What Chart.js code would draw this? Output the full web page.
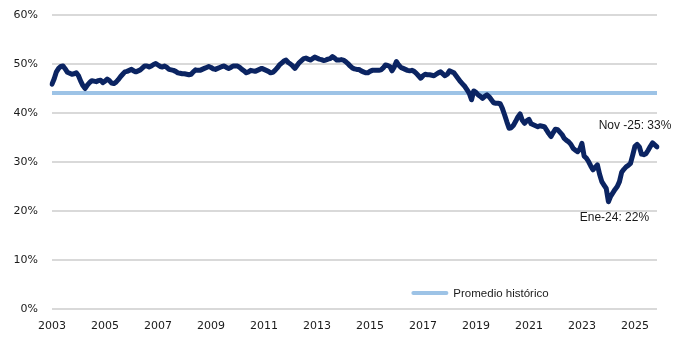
<!DOCTYPE html>
<html lang="es">
<head>
<meta charset="utf-8">
<title>Participación mensual vs. promedio histórico</title>
<script src="https://cdn.jsdelivr.net/npm/chart.js@4.4.1/dist/chart.umd.min.js"></script>
<style>
  html, body { margin: 0; padding: 0; background: #ffffff; }
  #wrap { position: relative; width: 680px; height: 340px; }
</style>
</head>
<body>
<div id="wrap"><canvas id="chart"></canvas></div>
<script>
// Monthly series, January 2003 to November 2025 (percent)
const startYear = 2003;
const monthNames = ['Ene', 'Feb', 'Mar', 'Abr', 'May', 'Jun', 'Jul', 'Ago', 'Sep', 'Oct', 'Nov', 'Dic'];

const shareValues = [
  // 2003
  45.9, 47.0, 48.4, 49.1, 49.5, 49.6, 49.0, 48.3, 48.1, 47.9, 48.0, 48.2,
  // 2004
  47.6, 46.5, 45.6, 45.0, 45.7, 46.2, 46.6, 46.5, 46.4, 46.6, 46.7, 46.2,
  // 2005
  46.5, 46.9, 46.6, 46.1, 46.0, 46.3, 46.8, 47.4, 47.9, 48.4, 48.5, 48.7,
  // 2006
  48.9, 48.6, 48.4, 48.6, 48.8, 49.2, 49.6, 49.6, 49.4, 49.6, 49.9, 50.1,
  // 2007
  49.8, 49.5, 49.4, 49.6, 49.3, 48.9, 48.8, 48.7, 48.5, 48.2, 48.1, 48.0,
  // 2008
  48.0, 47.9, 47.8, 47.9, 48.4, 48.8, 48.7, 48.7, 48.9, 49.1, 49.3, 49.5,
  // 2009
  49.3, 49.0, 48.9, 49.1, 49.3, 49.5, 49.6, 49.3, 49.1, 49.3, 49.6, 49.6,
  // 2010
  49.6, 49.3, 48.9, 48.6, 48.2, 48.4, 48.7, 48.6, 48.5, 48.7, 48.9, 49.1,
  // 2011
  48.9, 48.7, 48.5, 48.2, 48.3, 48.7, 49.2, 49.8, 50.2, 50.6, 50.8, 50.3,
  // 2012
  50.0, 49.6, 49.1, 49.7, 50.3, 50.7, 51.1, 51.2, 51.0, 50.8, 51.1, 51.4,
  // 2013
  51.2, 51.0, 50.9, 50.7, 50.8, 51.0, 51.1, 51.5, 51.2, 50.8, 50.8, 50.9,
  // 2014
  50.8, 50.5, 50.1, 49.6, 49.2, 49.0, 48.9, 48.9, 48.6, 48.4, 48.2, 48.2,
  // 2015
  48.5, 48.7, 48.7, 48.7, 48.7, 48.8, 49.2, 49.8, 49.7, 49.5, 48.6, 49.4,
  // 2016
  50.5, 49.8, 49.3, 49.1, 48.9, 48.7, 48.6, 48.7, 48.5, 48.1, 47.6, 47.1,
  // 2017
  47.6, 47.9, 47.8, 47.8, 47.7, 47.6, 47.9, 48.2, 48.4, 48.0, 47.6, 47.9,
  // 2018
  48.6, 48.4, 48.2, 47.6, 47.0, 46.4, 45.9, 45.4, 44.7, 44.0, 42.7, 44.5,
  // 2019
  44.2, 43.7, 43.4, 43.0, 43.4, 43.7, 43.3, 42.7, 42.1, 42.0, 42.0, 41.9,
  // 2020
  40.9, 39.6, 38.2, 36.9, 37.0, 37.5, 38.3, 39.2, 39.8, 38.5, 37.9, 38.4,
  // 2021
  38.7, 37.8, 37.6, 37.4, 37.2, 37.4, 37.3, 37.2, 36.5, 35.8, 35.2, 36.0,
  // 2022
  36.7, 36.6, 36.1, 35.6, 34.8, 34.4, 34.1, 33.6, 32.8, 32.4, 32.1, 32.6,
  // 2023
  33.8, 31.2, 30.8, 30.1, 29.2, 28.4, 28.9, 29.4, 27.5, 26.0, 25.3, 24.6,
  // 2024
  21.9, 23.0, 23.7, 24.4, 25.0, 26.0, 27.9, 28.5, 29.0, 29.3, 29.7, 31.4,
  // 2025
  33.2, 33.6, 33.1, 31.6, 31.5, 31.7, 32.4, 33.2, 33.9, 33.5, 33.1
];

const historicalAverage = 44.1;
const averageLabel = 'Promedio histórico';

// Y axis range and step (percent)
const yMin = 0, yMax = 60, yStep = 10;
// A year label every 24 months
const yearLabelEvery = 24;

// Highlighted points: category key and the prefix drawn before the value
const callouts = [
  { key: 'Ene-24', prefix: 'Ene-24' },
  { key: 'Nov-25', prefix: 'Nov -25' }
];

// Category labels built from the start year and the month names
const monthLabels = shareValues.map((_, i) =>
  monthNames[i % 12] + '-' + String(startYear + Math.floor(i / 12)).slice(2));
const averageValues = shareValues.map(() => historicalAverage);

const NAVY = '#0b2462';
const LIGHT_BLUE = '#9dc3e6';
const TEXT = '#1a1a1a';

// Legend entry drawn inside the plot, near its lower edge
const innerLegend = {
  id: 'innerLegend',
  afterDraw(chart) {
    const { ctx, chartArea } = chart;
    const ds = chart.data.datasets[1];
    const x0 = chartArea.left + (chartArea.right - chartArea.left) * 0.594;
    const y = chartArea.bottom - 16;
    ctx.save();
    ctx.strokeStyle = ds.borderColor;
    ctx.lineWidth = 4;
    ctx.lineCap = 'round';
    ctx.beginPath();
    ctx.moveTo(x0 + 2, y);
    ctx.lineTo(x0 + 35, y);
    ctx.stroke();
    ctx.fillStyle = TEXT;
    ctx.font = '11.5px "Liberation Sans", Arial, sans-serif';
    ctx.textAlign = 'left';
    ctx.textBaseline = 'middle';
    ctx.fillText(ds.label, x0 + 42, y + 0.5);
    ctx.restore();
  }
};

// Value labels next to selected points
const calloutLabels = {
  id: 'calloutLabels',
  afterDatasetsDraw(chart) {
    const { ctx } = chart;
    const meta = chart.getDatasetMeta(0);
    const offsets = { 'Ene-24': [6, 16], 'Nov-25': [-22, -21] };
    ctx.save();
    ctx.fillStyle = TEXT;
    ctx.font = '12px "Liberation Sans", Arial, sans-serif';
    ctx.textAlign = 'center';
    ctx.textBaseline = 'middle';
    callouts.forEach(c => {
      const idx = monthLabels.indexOf(c.key);
      if (idx < 0) return;
      const pt = meta.data[idx];
      const [dx, dy] = offsets[c.key];
      const text = c.prefix + ': ' + Math.round(shareValues[idx]) + '%';
      ctx.fillText(text, pt.x + dx, pt.y + dy);
    });
    ctx.restore();
  }
};

new Chart(document.getElementById('chart'), {
  type: 'line',
  data: {
    labels: monthLabels,
    datasets: [
      {
        label: 'Participación',
        data: shareValues,
        borderColor: NAVY,
        borderWidth: 5,
        borderJoinStyle: 'round',
        borderCapStyle: 'round',
        pointRadius: 0,
        tension: 0,
        order: 0
      },
      {
        label: averageLabel,
        data: averageValues,
        borderColor: LIGHT_BLUE,
        borderWidth: 4,
        pointRadius: 0,
        tension: 0,
        order: 1
      }
    ]
  },
  options: {
    responsive: true,
    maintainAspectRatio: false,
    animation: false,
    layout: { padding: { top: 15, right: 23, bottom: 0, left: 0 } },
    plugins: {
      legend: { display: false },
      tooltip: { enabled: false }
    },
    scales: {
      x: {
        type: 'category',
        offset: false,
        afterFit: scale => { scale.height = 31; },
        grid: { display: false, drawTicks: false },
        border: { display: false },
        ticks: {
          autoSkip: false,
          maxRotation: 0,
          padding: 11,
          color: TEXT,
          font: { family: '"DejaVu Sans", sans-serif', size: 11 },
          callback: (value, index) =>
            index % yearLabelEvery === 0 ? String(startYear + index / 12) : null
        }
      },
      y: {
        min: yMin,
        max: yMax,
        afterFit: scale => {
          scale.width = 52;
          scale.paddingTop = 0;
          scale.paddingBottom = 0;
        },
        grid: { color: '#d9d9d9', lineWidth: 2, drawTicks: false },
        border: { display: false },
        ticks: {
          stepSize: yStep,
          padding: 14,
          color: TEXT,
          font: { family: '"DejaVu Sans", sans-serif', size: 11 },
          callback: v => v + '%'
        }
      }
    }
  },
  plugins: [innerLegend, calloutLabels]
});
</script>
</body>
</html>
